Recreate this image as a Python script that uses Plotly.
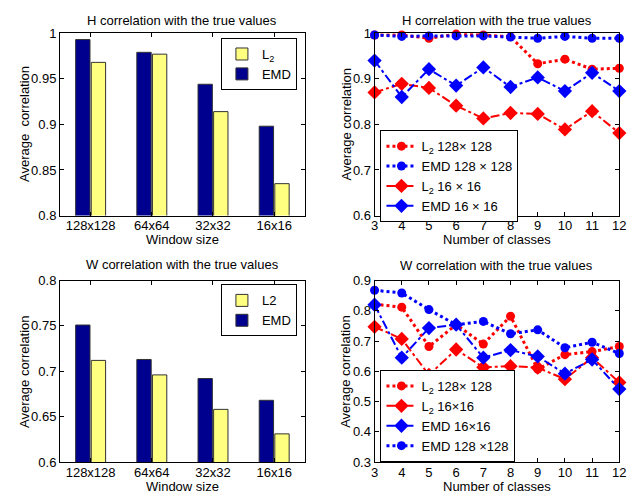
import plotly.graph_objects as go

# ---------------- data ----------------
window_sizes = ["128x128", "64x64", "32x32", "16x16"]
H_emd_bar = [0.993, 0.979, 0.944, 0.898]
H_l2_bar = [0.968, 0.977, 0.914, 0.835]
W_emd_bar = [0.751, 0.713, 0.692, 0.668]
W_l2_bar = [0.712, 0.696, 0.658, 0.631]

classes = [3, 4, 5, 6, 7, 8, 9, 10, 11, 12]
H_l2_128 = [0.996, 0.996, 0.989, 0.998, 0.996, 0.992, 0.933, 0.943, 0.921, 0.923]
H_emd_128 = [0.996, 0.993, 0.994, 0.994, 0.994, 0.9915, 0.989, 0.993, 0.989, 0.989]
H_l2_16 = [0.870, 0.889, 0.880, 0.841, 0.813, 0.825, 0.823, 0.789, 0.829, 0.781]
H_emd_16 = [0.940, 0.860, 0.921, 0.885, 0.925, 0.882, 0.903, 0.873, 0.913, 0.873]

W_l2_128 = [0.822, 0.812, 0.682, 0.754, 0.690, 0.782, 0.607, 0.655, 0.665, 0.682]
W_l2_16 = [0.747, 0.707, 0.588, 0.672, 0.613, 0.617, 0.612, 0.574, 0.645, 0.563]
W_emd_16 = [0.820, 0.645, 0.743, 0.754, 0.645, 0.670, 0.649, 0.592, 0.639, 0.541]
W_emd_128 = [0.868, 0.859, 0.804, 0.754, 0.765, 0.724, 0.737, 0.678, 0.696, 0.659]

H_bar_ticks = [0.8, 0.85, 0.9, 0.95, 1.0]
H_bar_ticktext = ["0.8", "0.85", "0.9", "0.95", "1"]
W_bar_ticks = [0.6, 0.65, 0.7, 0.75, 0.8]
W_bar_ticktext = ["0.6", "0.65", "0.7", "0.75", "0.8"]
H_line_ticks = [0.6, 0.7, 0.8, 0.9, 1.0]
H_line_ticktext = ["0.6", "0.7", "0.8", "0.9", "1"]
W_line_ticks = [0.3, 0.4, 0.5, 0.6, 0.7, 0.8, 0.9]
W_line_ticktext = ["0.3", "0.4", "0.5", "0.6", "0.7", "0.8", "0.9"]

# ---------------- styling ----------------
W_PX, H_PX = 644, 502
FONT = "Liberation Sans, Arial, Helvetica, sans-serif"
NAVY = "rgb(0,0,143)"
YELLOW = "rgb(255,255,128)"
RED = "rgb(255,0,0)"
BLUE = "rgb(0,0,255)"
EDGE = "rgb(50,50,50)"


def px_x(p):
    return p / W_PX


def px_y(p):
    return 1 - p / H_PX


dom_x_left = [px_x(57), px_x(306)]
dom_x_right = [px_x(377), px_x(626)]
dom_y_top = [px_y(215), px_y(27)]
dom_y_bot = [px_y(469), px_y(282)]

fig = go.Figure()

# --- H bars (x, y) ---
fig.add_trace(go.Bar(x=window_sizes, y=H_emd_bar, name="EMD", marker=dict(color=NAVY, line=dict(color=EDGE, width=1)),
                     xaxis="x", yaxis="y", legend="legend", legendrank=2))
fig.add_trace(go.Bar(x=window_sizes, y=H_l2_bar, name="L<sub>2</sub>", marker=dict(color=YELLOW, line=dict(color=EDGE, width=1)),
                     xaxis="x", yaxis="y", legend="legend", legendrank=1))

# --- W bars (x3, y3) ---
fig.add_trace(go.Bar(x=window_sizes, y=W_emd_bar, name="EMD", marker=dict(color=NAVY, line=dict(color=EDGE, width=1)),
                     xaxis="x3", yaxis="y3", legend="legend3", legendrank=2))
fig.add_trace(go.Bar(x=window_sizes, y=W_l2_bar, name="L2", marker=dict(color=YELLOW, line=dict(color=EDGE, width=1)),
                     xaxis="x3", yaxis="y3", legend="legend3", legendrank=1))


def circ_line(y, color, name, xa, ya, leg, rank):
    return go.Scatter(x=classes, y=y, name=name, mode="lines+markers",
                      line=dict(color=color, width=3, dash="dot"),
                      marker=dict(symbol="circle", size=9, color=color),
                      xaxis=xa, yaxis=ya, legend=leg, legendrank=rank, cliponaxis=False)


def diam_line(y, color, name, xa, ya, leg, rank):
    return go.Scatter(x=classes, y=y, name=name, mode="lines+markers",
                      line=dict(color=color, width=2, dash="dashdot"),
                      marker=dict(symbol="diamond", size=11, color=color),
                      xaxis=xa, yaxis=ya, legend=leg, legendrank=rank, cliponaxis=False)


# --- H lines (x2, y2) ---
fig.add_trace(circ_line(H_l2_128, RED, "L<sub>2</sub> 128× 128", "x2", "y2", "legend2", 1))
fig.add_trace(circ_line(H_emd_128, BLUE, "EMD 128 × 128", "x2", "y2", "legend2", 2))
fig.add_trace(diam_line(H_l2_16, RED, "L<sub>2</sub> 16 × 16", "x2", "y2", "legend2", 3))
fig.add_trace(diam_line(H_emd_16, BLUE, "EMD 16 × 16", "x2", "y2", "legend2", 4))

# --- W lines (x4, y4) ---
fig.add_trace(circ_line(W_l2_128, RED, "L<sub>2</sub> 128× 128", "x4", "y4", "legend4", 1))
fig.add_trace(diam_line(W_l2_16, RED, "L<sub>2</sub> 16×16", "x4", "y4", "legend4", 2))
fig.add_trace(diam_line(W_emd_16, BLUE, "EMD 16×16", "x4", "y4", "legend4", 3))
fig.add_trace(circ_line(W_emd_128, BLUE, "EMD 128 ×128", "x4", "y4", "legend4", 4))

tickfont = dict(family=FONT, size=13, color="black")
axis_common = dict(showline=True, linecolor="black", linewidth=1, mirror="allticks", ticks="inside",
                   ticklen=4, tickcolor="black", showgrid=False, zeroline=False, tickfont=tickfont)
xaxis_extra = dict(ticklabelstandoff=-2)

legend_common = dict(bgcolor="white", bordercolor="black", borderwidth=1,
                     font=dict(family=FONT, size=13, color="black"), tracegroupgap=0,
                     xref="paper", yref="paper")

fig.update_layout(
    width=W_PX, height=H_PX,
    margin=dict(l=0, r=0, t=0, b=0),
    paper_bgcolor="white", plot_bgcolor="white",
    barmode="group", bargap=0.49, bargroupgap=0.08,
    font=dict(family=FONT, size=13, color="black"),
    xaxis=dict(domain=dom_x_left, anchor="y", type="category", range=[-0.5, 3.5], **axis_common, **xaxis_extra),
    yaxis=dict(domain=dom_y_top, anchor="x", range=[0.8, 1.0], tickvals=H_bar_ticks, ticktext=H_bar_ticktext, **axis_common),
    xaxis2=dict(domain=dom_x_right, anchor="y2", range=[3, 12], tickvals=classes, **axis_common, **xaxis_extra),
    yaxis2=dict(domain=dom_y_top, anchor="x2", range=[0.6, 1.0], tickvals=H_line_ticks, ticktext=H_line_ticktext, **axis_common),
    xaxis3=dict(domain=dom_x_left, anchor="y3", type="category", range=[-0.5, 3.5], **axis_common, **xaxis_extra),
    yaxis3=dict(domain=dom_y_bot, anchor="x3", range=[0.6, 0.8], tickvals=W_bar_ticks, ticktext=W_bar_ticktext, **axis_common),
    xaxis4=dict(domain=dom_x_right, anchor="y4", range=[3, 12], tickvals=classes, **axis_common, **xaxis_extra),
    yaxis4=dict(domain=dom_y_bot, anchor="x4", range=[0.3, 0.9], tickvals=W_line_ticks, ticktext=W_line_ticktext, **axis_common),
    legend=dict(x=px_x(298), y=px_y(32), xanchor="right", yanchor="top", itemwidth=30, **legend_common),
    legend2=dict(x=px_x(383), y=px_y(127), xanchor="left", yanchor="top", itemwidth=30, **legend_common),
    legend3=dict(x=px_x(298), y=px_y(286), xanchor="right", yanchor="top", itemwidth=30, **legend_common),
    legend4=dict(x=px_x(383), y=px_y(469), xanchor="left", yanchor="bottom", itemwidth=30, **legend_common),
    showlegend=True,
)

ann_font = dict(family=FONT, size=13, color="black")
annotations = []
titles = [
    ("H correlation with the true values", (57 + 306) / 2, 14),
    ("H correlation with the true values", (377 + 626) / 2, 14),
    ("W correlation with the true values", (57 + 306) / 2, 265),
    ("W correlation with the true values", (377 + 626) / 2, 266),
    ("Window size", (57 + 306) / 2, 240),
    ("Number of classes", (377 + 626) / 2, 240),
    ("Window size", (57 + 306) / 2, 494),
    ("Number of classes", (377 + 626) / 2, 494),
]
for text, xp, yp in titles:
    annotations.append(dict(text=text, x=px_x(xp), y=px_y(yp), xref="paper", yref="paper",
                            xanchor="center", yanchor="middle", showarrow=False, font=ann_font))
ytitles = [
    ("Average  correlation", 21, (27 + 215) / 2),
    ("Average correlation", 348, (27 + 215) / 2),
    ("Average correlation", 21, (282 + 469) / 2),
    ("Average correlation", 348, (283 + 469) / 2),
]
for text, xp, yp in ytitles:
    annotations.append(dict(text=text, x=px_x(xp), y=px_y(yp), xref="paper", yref="paper",
                            xanchor="center", yanchor="middle", showarrow=False, textangle=-90, font=ann_font))
fig.update_layout(annotations=annotations)

fig.write_html("out.html", config={"displayModeBar": False},
               post_script="document.body.style.margin='0';document.body.style.padding='0';document.body.style.overflow='hidden';")
